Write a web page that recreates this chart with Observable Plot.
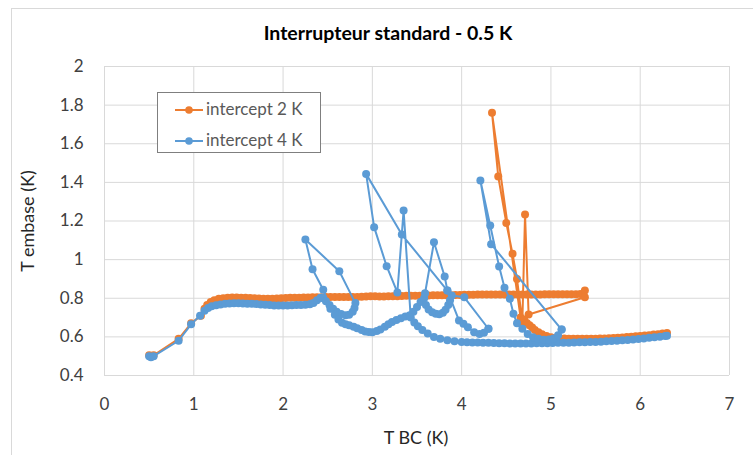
<!DOCTYPE html>
<html><head><meta charset="utf-8">
<script src="https://cdn.jsdelivr.net/npm/d3@7"></script>
<script src="https://cdn.jsdelivr.net/npm/@observablehq/plot@0.6"></script>
<style>
body{margin:0;background:#fff;font-family:Lato,"Open Sans",sans-serif;}
#wrap{position:relative;width:753px;height:455px;overflow:hidden;background:#fff;}
#frame{position:absolute;left:11px;top:8px;width:760px;height:480px;border:1px solid #d9d9d9;box-sizing:border-box;}
#chart{position:absolute;left:0;top:0;}
#title{position:absolute;left:0;width:776px;top:20px;text-align:center;font-weight:bold;font-size:19.5px;color:#000;line-height:26px;}
#xtitle{position:absolute;left:316px;width:200px;top:426px;text-align:center;font-size:18px;color:#262626;line-height:22px;}
#ytitle{position:absolute;left:-73px;top:210px;width:200px;text-align:center;font-size:18px;color:#262626;line-height:22px;transform:rotate(-90deg);}
#legend{position:absolute;left:157px;top:92px;width:164px;height:61px;box-sizing:border-box;border:1px solid #7f7f7f;background:#fff;}
.item{position:absolute;left:17px;height:22px;line-height:22px;font-size:17px;color:#595959;white-space:nowrap;}
.item svg{vertical-align:middle;margin-right:3px;position:relative;top:-1px;}
</style></head>
<body>
<div id="wrap">
  <div id="frame"></div>
  <div id="chart"></div>
  <div id="title">Interrupteur standard - 0.5 K</div>
  <div id="xtitle">T BC (K)</div>
  <div id="ytitle">T embase (K)</div>
  <div id="legend"></div>
</div>
<script>
const seriesNames = ["intercept 2 K", "intercept 4 K"];
const seriesColors = ["#ED7D31", "#5B9BD5"];
const xTicks = [0, 1, 2, 3, 4, 5, 6, 7];
const yTicks = [0.4, 0.6, 0.8, 1.0, 1.2, 1.4, 1.6, 1.8, 2.0];

// intercept 2 K (one continuous path)
const orange = [
[0.50,0.505],[0.52,0.50],[0.55,0.505],[0.83,0.59],[0.97,0.67],[1.08,0.71],[1.12,0.745],[1.15,0.765],[1.19,0.78],[1.23,0.79],[1.28,0.797],[1.33,0.80],[1.38,0.803],[1.43,0.804],[1.48,0.804],[1.53,0.803],[1.58,0.802],[1.63,0.801],[1.68,0.80],[1.73,0.799],[1.78,0.798],[1.83,0.798],[1.88,0.798],[1.93,0.799],[1.98,0.80],[2.03,0.801],[2.08,0.802],[2.13,0.803],[2.18,0.803],[2.23,0.804],[2.28,0.804],[2.33,0.805],[2.38,0.805],[2.43,0.805],[2.48,0.806],[2.53,0.807],[2.58,0.807],[2.63,0.807],[2.68,0.807],[2.73,0.806],[2.78,0.806],[2.83,0.807],[2.88,0.808],[2.93,0.809],[2.98,0.81],[3.03,0.81],[3.08,0.809],[3.13,0.809],[3.18,0.81],[3.23,0.81],[3.28,0.811],[3.33,0.812],[3.38,0.813],[3.43,0.813],[3.48,0.813],[3.53,0.813],[3.58,0.814],[3.63,0.814],[3.68,0.815],[3.73,0.815],[3.78,0.815],[3.83,0.816],[3.88,0.816],[3.93,0.817],[3.98,0.817],[4.03,0.818],[4.08,0.818],[4.13,0.818],[4.18,0.819],[4.23,0.819],[4.28,0.819],[4.33,0.82],[4.38,0.82],[4.43,0.82],[4.48,0.82],[4.53,0.82],[4.58,0.82],[4.63,0.82],[4.68,0.82],[4.73,0.82],[4.78,0.82],[4.83,0.82],[4.88,0.82],[4.93,0.821],[4.98,0.821],[5.03,0.821],[5.08,0.821],[5.13,0.821],[5.18,0.821],[5.23,0.821],[5.28,0.821],[5.33,0.822],[5.38,0.84],[5.38,0.805],
[4.75,0.716],[4.71,1.234],[4.68,0.676],[4.62,0.90],[4.57,1.03],[4.50,1.19],[4.41,1.43],[4.34,1.76],[4.66,0.70],
[4.70,0.69],[4.73,0.672],[4.76,0.66],[4.79,0.648],[4.82,0.636],[4.86,0.624],[4.90,0.614],[4.95,0.605],[5.00,0.598],[5.05,0.594],[5.10,0.592],[5.15,0.591],[5.20,0.590],[5.25,0.590],[5.30,0.590],[5.35,0.590],[5.40,0.590],[5.45,0.590],[5.50,0.590],[5.55,0.591],[5.60,0.592],[5.65,0.593],[5.70,0.594],[5.75,0.596],[5.80,0.597],[5.85,0.599],[5.90,0.601],[5.95,0.603],[6.00,0.605],[6.05,0.607],[6.10,0.609],[6.15,0.612],[6.20,0.614],[6.25,0.617],[6.30,0.62]
];

// intercept 4 K, drawn as several connected pieces
const blueMain = [
[0.50,0.50],[0.52,0.495],[0.55,0.50],[0.83,0.58],[0.97,0.665],[1.07,0.71],[1.12,0.735],[1.16,0.75],[1.20,0.758],[1.25,0.764],[1.30,0.768],[1.35,0.771],[1.40,0.773],[1.45,0.774],[1.50,0.774],[1.55,0.773],[1.60,0.772],[1.65,0.771],[1.70,0.770],[1.75,0.768],[1.80,0.766],[1.85,0.765],[1.90,0.763],[1.95,0.762],[2.00,0.762],[2.05,0.763],[2.10,0.764],[2.15,0.765],[2.20,0.765],[2.25,0.766],[2.30,0.769],[2.34,0.776],[2.38,0.79],[2.42,0.803],[2.45,0.80],[2.48,0.785],[2.52,0.765],[2.56,0.745],[2.60,0.73],[2.65,0.718],[2.70,0.712],[2.74,0.715],[2.78,0.73],[2.80,0.75],[2.81,0.775],
[2.63,0.94],[2.25,1.104],[2.33,0.95],[2.45,0.844],
[2.53,0.745],[2.58,0.714],[2.62,0.69],[2.66,0.673],[2.70,0.665],[2.74,0.66],[2.79,0.652],[2.83,0.645],[2.88,0.635],[2.92,0.628],[2.96,0.625],[3.00,0.624],[3.05,0.63],[3.09,0.638],[3.14,0.652],[3.18,0.665],[3.22,0.677],[3.27,0.687],[3.32,0.697],[3.37,0.705],[3.42,0.712],[3.46,0.73],[3.50,0.755],[3.54,0.78],[3.58,0.80],[3.60,0.765],[3.63,0.742],[3.67,0.728],[3.71,0.72],[3.75,0.717],[3.79,0.725],[3.82,0.74],[3.85,0.765],[3.87,0.79],[3.89,0.814],[4.03,0.805],[4.30,0.642]
];
const blueSpikeB = [
[3.59,0.826],[3.69,1.09],[3.81,0.913],[3.84,0.84],[3.97,0.685],[4.02,0.668],[4.07,0.65],[4.14,0.624],[4.20,0.615],[4.25,0.622],[4.30,0.642]
];
const blueSpikeA = [
[3.84,0.84],[3.33,1.13],[2.93,1.444],[3.02,1.168],[3.16,0.966],[3.28,0.83],[3.35,1.254],[3.43,0.70],[3.47,0.675],[3.51,0.655],[3.56,0.636],[3.62,0.617],[3.69,0.60],[3.76,0.59],[3.84,0.582],[3.92,0.577],[4.00,0.574],[4.06,0.572],[4.12,0.571],[4.18,0.571],[4.24,0.57],[4.30,0.569],[4.36,0.568],[4.42,0.567],[4.48,0.567],[4.54,0.566],[4.60,0.566],[4.66,0.566],[4.72,0.566],[4.78,0.566],[4.84,0.567],[4.90,0.567],[4.96,0.567],[5.02,0.568],[5.08,0.569],[5.14,0.569],[5.20,0.57],[5.26,0.571],[5.32,0.572],[5.38,0.572],[5.44,0.573],[5.50,0.574],[5.56,0.575],[5.62,0.577],[5.68,0.578],[5.74,0.58],[5.80,0.582],[5.86,0.584],[5.92,0.587],[5.98,0.589],[6.04,0.592],[6.10,0.595],[6.16,0.598],[6.22,0.601],[6.28,0.604],[6.30,0.606]
];
const blueSpikeC = [
[5.12,0.638],[4.33,1.08],[4.21,1.41],[4.32,1.177],[4.42,0.964],[4.48,0.855],[4.54,0.797],[4.58,0.72],[4.62,0.671],[4.68,0.642],[4.74,0.615],[4.80,0.598],[4.86,0.59],[4.92,0.585],[4.98,0.586],[5.03,0.592],[5.08,0.608],[5.12,0.638]
];

const orangeData = orange.map(([x, y]) => ({x, y}));
const bluePieces = [blueMain, blueSpikeB, blueSpikeA, blueSpikeC];
const blueData = bluePieces.flatMap((p, i) => p.map(([x, y]) => ({x, y, seg: i})));

const chart = Plot.plot({
  width: 753, height: 455,
  marginLeft: 104, marginRight: 24, marginTop: 66, marginBottom: 80,
  style: {fontFamily: "Lato, 'Open Sans', sans-serif", fontSize: "17px", color: "#404040", background: "transparent", overflow: "visible"},
  x: {domain: [0, 7], ticks: xTicks, tickSize: 0, tickPadding: 22, label: null, tickFormat: d => String(d)},
  y: {domain: [0.4, 2], ticks: yTicks, tickSize: 0, tickPadding: 21, label: null, tickFormat: d => String(+d.toFixed(1))},
  marks: [
    Plot.ruleX(xTicks, {stroke: "#d9d9d9", strokeWidth: 1}),
    Plot.ruleY(yTicks, {stroke: "#d9d9d9", strokeWidth: 1}),
    Plot.line(orangeData, {x: "x", y: "y", stroke: seriesColors[0], strokeWidth: 2, curve: "linear"}),
    Plot.dot(orangeData, {x: "x", y: "y", r: 4, fill: seriesColors[0]}),
    Plot.line(blueData, {x: "x", y: "y", z: "seg", stroke: seriesColors[1], strokeWidth: 2, curve: "linear"}),
    Plot.dot(blueData, {x: "x", y: "y", r: 4, fill: seriesColors[1]})
  ]
});
document.getElementById("chart").appendChild(chart);

const legend = document.getElementById("legend");
seriesNames.forEach((name, i) => {
  const d = document.createElement("div");
  d.className = "item";
  d.style.top = (5 + i * 31) + "px";
  d.innerHTML = `<svg width="28" height="10"><line x1="0" y1="5" x2="28" y2="5" stroke="${seriesColors[i]}" stroke-width="2"/><circle cx="14" cy="5" r="3.8" fill="${seriesColors[i]}"/></svg>`;
  d.appendChild(document.createTextNode(name));
  legend.appendChild(d);
});
</script>
</body></html>
